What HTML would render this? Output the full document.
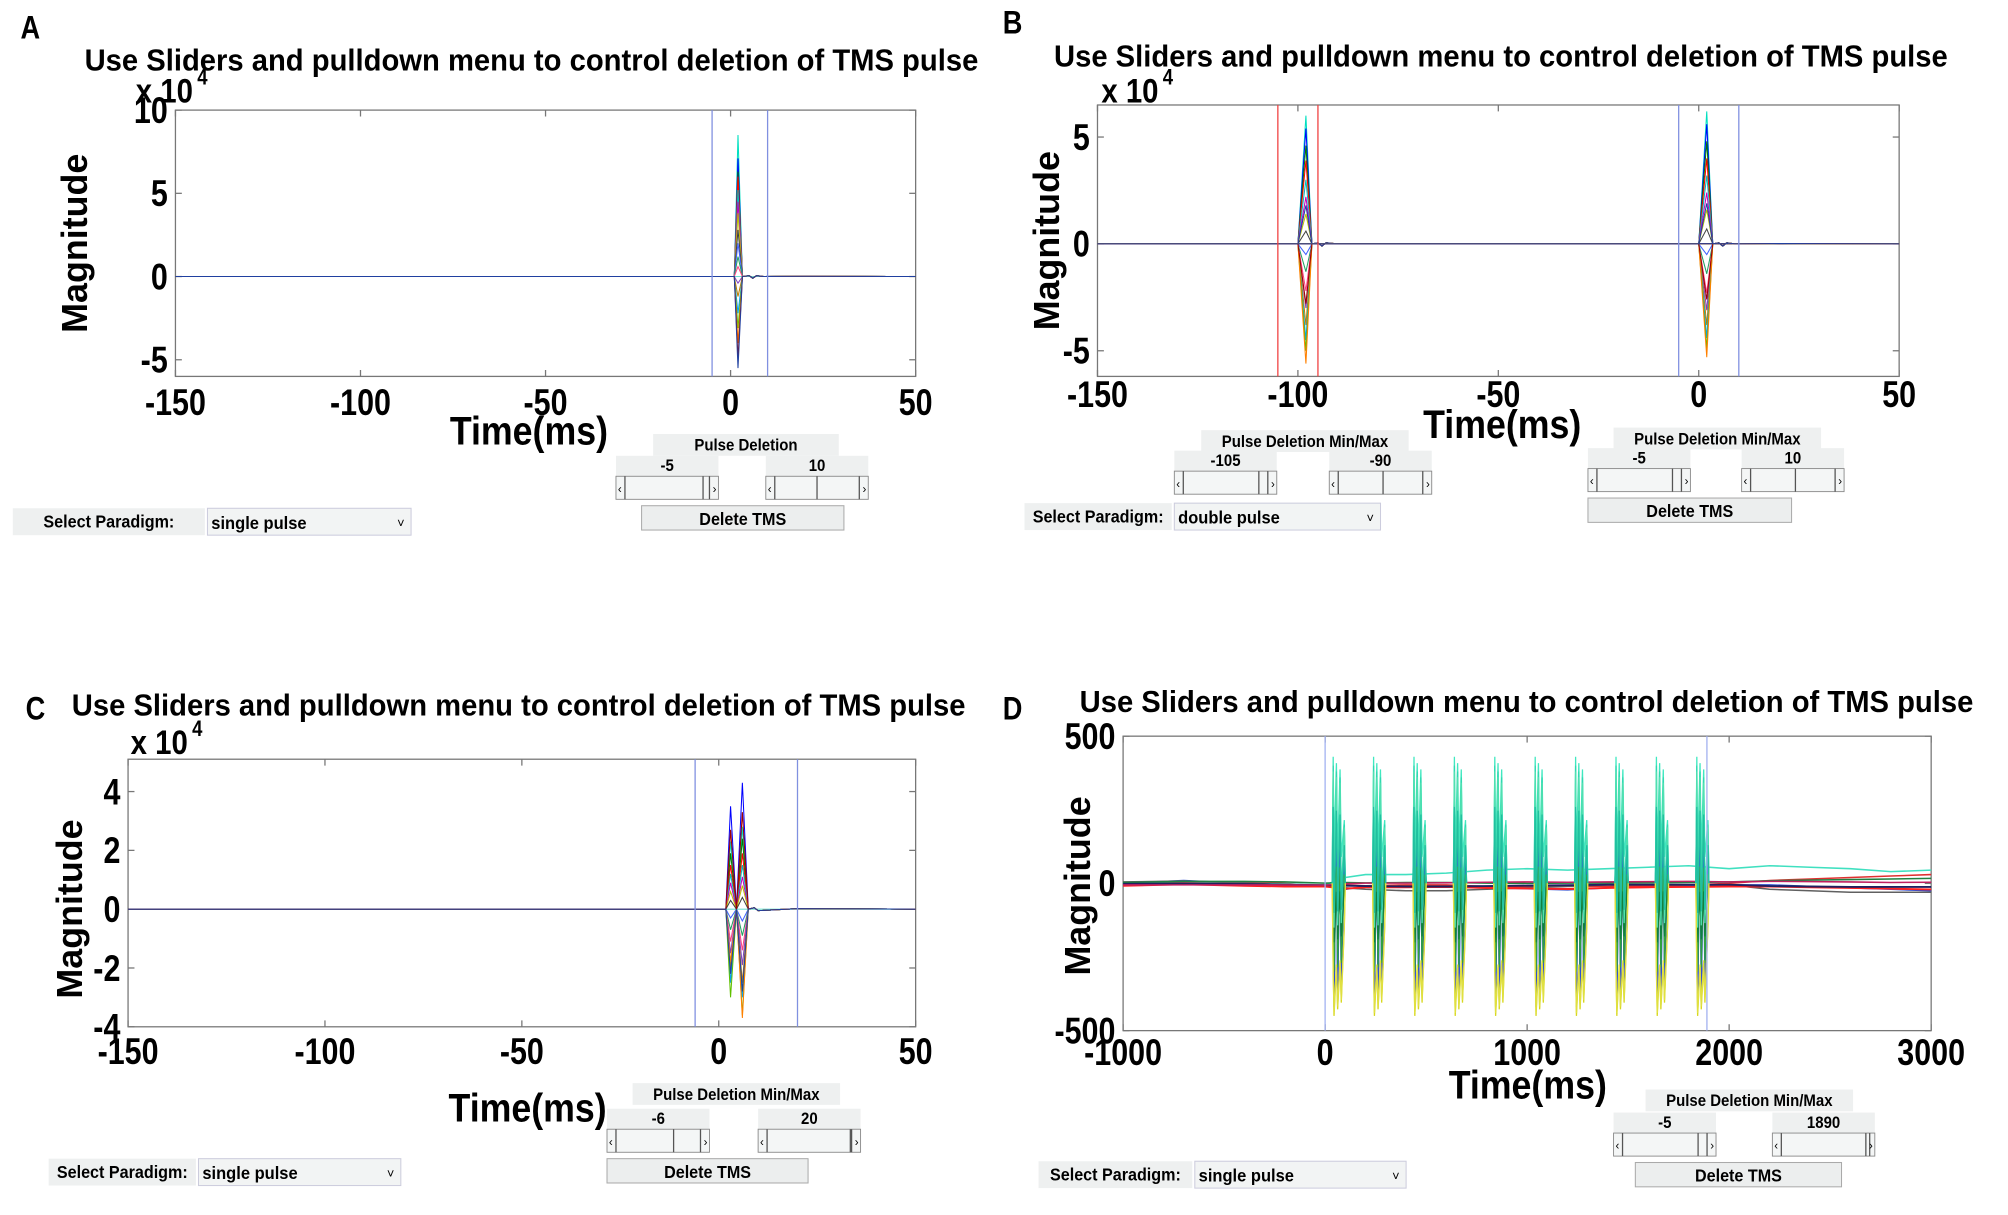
<!DOCTYPE html>
<html><head><meta charset="utf-8"><style>
html,body{margin:0;padding:0;background:#fff;}
svg{display:block;font-family:"Liberation Sans",sans-serif;}
</style></head><body>
<svg id="fig" width="2008" height="1215" viewBox="0 0 1568 949" preserveAspectRatio="none" xmlns="http://www.w3.org/2000/svg"></svg>
<script>
// ---------- data ----------
const colors = ["#00e0c0","#0000ff","#008000","#ff0000","#00bfbf","#bf00bf","#bfbf00","#404040","#4060ff","#20a060","#ff4080","#8040c0","#c08000","#00a0ff","#60c000","#ff8000","#a00000","#2040a0"];
// Panel A: amplitude (x1e4) at t=2 ms for each channel
const aPeak = [8.5,7.1,6.3,6.0,5.2,4.5,3.8,2.8,2.0,1.2,0.6,-0.4,-1.2,-2.2,-3.1,-4.0,-4.9,-5.5];
// Panel B: amplitudes at first (-98 ms) and second (2 ms) pulse
const bPeak1 = [6.0,5.4,4.6,3.9,3.0,2.2,1.4,0.6,-0.5,-1.3,-2.2,-3.0,-3.8,-4.5,-5.0,-5.6,-2.8,1.8];
const bPeak2 = [6.2,5.6,4.8,4.0,3.2,2.4,1.6,0.7,-0.5,-1.4,-2.3,-3.1,-3.8,-4.4,-4.9,-5.3,-2.6,1.9];
// Panel C: amplitudes at t=3 ms and t=6 ms
const cPeak1 = [2.3,3.5,1.9,1.5,1.2,0.9,0.6,0.3,-0.3,-0.7,-1.1,-1.5,-2.0,-2.5,-3.0,-1.8,2.7,-2.2];
const cPeak2 = [2.8,4.3,2.4,1.9,1.5,1.1,0.8,0.4,-0.4,-0.9,-1.4,-1.9,-2.5,-3.0,-3.6,-3.7,3.3,-2.8];
// Panel D: burst onsets (ms), channel high/low amplitudes (uV)
const dBursts = [50,250,450,650,850,1050,1250,1450,1650,1850];
const dHi = [200,180,60,-30,430,400,380,260,-300,-290];
const dLo = [-420,-400,-300,-200,100,-50,-150,-100,-450,-440];
const dCol = ["#2040e0","#3050d0","#30a040","#108040","#40e8c0","#30d8b0","#50e0b0","#20c0a0","#d8d820","#e0e040"];
const dBaseT = [-1000,-700,-400,-200,0,100,200,400,600,800,1000,1200,1400,1600,1800,2000,2200,2400,2600,2800,3000];
const dBase1 = [0,10,0,-5,-5,-20,-10,-10,-8,-15,-18,-22,-15,-10,-8,-5,-5,-10,-15,-20,-25];
const dBase2 = [-5,5,5,0,-10,-5,-8,-5,-5,-10,-12,-10,-10,-8,-5,0,10,15,20,25,30];
const dBase3 = [0,0,0,-2,-5,20,30,30,35,45,50,45,50,55,60,50,60,55,50,40,45];
const dBase4 = [5,8,2,-5,-10,-15,-20,-25,-25,-20,-15,-10,-5,-5,-5,-5,-20,-25,-30,-30,-30];
const xTicksA = [-150,-100,-50,0,50];
const xTicksD = [-1000,0,1000,2000,3000];

const NS="http://www.w3.org/2000/svg";
const svg=document.getElementById('fig');
function mk(tag,attrs,parent){const e=document.createElementNS(NS,tag);for(const k in attrs)e.setAttribute(k,attrs[k]);(parent||svg).appendChild(e);return e;}
function txt(s,x,y,size,anchor,parent,extra){const t=mk('text',Object.assign({x:x,y:y,'font-size':size,'font-weight':'bold','text-anchor':anchor||'middle',fill:'#000'},extra||{}),parent);t.textContent=s;return t;}
function txtS(s,x,y,size,anchor,parent,k){return txt(s,0,0,size,anchor,parent,{transform:'translate('+x+','+y+') scale('+k+',1)'});}

function panel(p){
  const g=mk('g',{});
  
  
  const sx=v=>p.x0+(v-p.xmin)/(p.xmax-p.xmin)*(p.x1-p.x0);
  const sy=v=>p.y1-(v-p.ymin)/(p.ymax-p.ymin)*(p.y1-p.y0);
  const lab=txtS(p.id,p.lx,p.ly,25,'start',g,0.85);
  
  
  const ti=txtS('Use Sliders and pulldown menu to control deletion of TMS pulse',p.tx,p.ty,24,'middle',g,0.95);
  
  
  const box=mk('rect',{x:p.x0,y:p.y0,width:p.x1-p.x0,height:p.y1-p.y0,fill:'#fff',stroke:'#777','stroke-width':1},g);
  
  
  p.xticks.forEach(v=>{
    const X=sx(v);
    mk('line',{x1:X,x2:X,y1:p.y1,y2:p.y1-5,stroke:'#777'},g);
    mk('line',{x1:X,x2:X,y1:p.y0,y2:p.y0+5,stroke:'#777'},g);
    const t=txtS(String(v),X,p.xty,29,'middle',g,0.82);
    
    
  });
  p.yticks.forEach(v=>{
    const Y=sy(v);
    mk('line',{x1:p.x0,x2:p.x0+5,y1:Y,y2:Y,stroke:'#777'},g);
    mk('line',{x1:p.x1,x2:p.x1-5,y1:Y,y2:Y,stroke:'#777'},g);
    const t=txtS(String(v),p.x0-6,Y+10,29,'end',g,0.82);
    
    
  });
  const xt=txtS('Time(ms)',p.xlx,p.xly,31,'middle',g,0.9);
  
  
  const yt=txt('Magnitude',0,0,28,'middle',g,{transform:'translate('+p.ylx+','+p.yly+') rotate(-90)'});
  
  
  if(p.exp){
    const e=txtS('x 10',p.exp[0],p.exp[1],27,'start',g,0.85);
    
    
    txtS('4',p.exp[0]+48,p.exp[1]-14,17,'start',g,0.85);
  }
  return {g,sx,sy};
}
function vline(P,p,v,col,name){
  const l=mk('line',{x1:P.sx(v),x2:P.sx(v),y1:p.y0,y2:p.y1,stroke:col,'stroke-width':1},P.g);
  
  
}
function poly(P,ts,vs,col,name,w){
  const pts=ts.map((t,i)=>P.sx(t).toFixed(2)+','+P.sy(vs[i]).toFixed(2)).join(' ');
  const l=mk('polyline',{points:pts,fill:'none',stroke:col,'stroke-width':w||0.8},P.g);
  
  
}
function ctl(x,y,w,h,label,parent){
  const r=mk('rect',{x:x,y:y,width:w,height:h,fill:'#eef0f0'},parent);
  if(label!==null){txtS(label,x+w/2,y+h-4,13,'middle',parent,0.9);}
  return r;
}
function slider(x,y,val,thumb){
  const g=mk('g',{});
  
  
  ctl(x,y,80,16,val,g);
  mk('rect',{x:x,y:y+16,width:80,height:18,fill:'#f4f6f6',stroke:'#888','stroke-width':0.7},g);
  mk('line',{x1:x+thumb,x2:x+thumb,y1:y+16,y2:y+34,stroke:'#555','stroke-width':1},g);
  mk('line',{x1:x+7,x2:x+7,y1:y+16,y2:y+34,stroke:'#555','stroke-width':1},g);
  mk('line',{x1:x+73,x2:x+73,y1:y+16,y2:y+34,stroke:'#555','stroke-width':1},g);
  txt('‹',x+3,y+29,9,'middle',g,{'font-weight':'normal'});
  txt('›',x+77,y+29,9,'middle',g,{'font-weight':'normal'});
}
function button(x,y,w,label){
  const g=mk('g',{});
  
  
  mk('rect',{x:x,y:y,width:w,height:19,fill:'#eceeee',stroke:'#aaa','stroke-width':0.8},g);
  txtS(label,x+w/2,y+15,14,'middle',g,0.9);
}
function titleBox(x,y,w,label){
  const g=mk('g',{});
  
  
  ctl(x,y,w,17,label,g);
}
function paradigm(x,y,lw,dw,val){
  const g=mk('g',{});
  
  
  ctl(x,y,lw,21,null,g);
  txtS('Select Paradigm:',x+lw/2,y+15,14,'middle',g,0.9);
  const d=mk('g',{});
  
  
  mk('rect',{x:x+lw+2,y:y,width:dw,height:21,fill:'#f2f4f4',stroke:'#ccd','stroke-width':0.8},d);
  txtS(val,x+lw+5,y+16,14,'start',d,0.92);
  txt('˅',x+lw+dw-6,y+15,10,'middle',d,{'font-weight':'normal'});
}

// ---------- Panel A ----------
const pA={id:'A',lx:16,ly:30,tx:415,ty:55,x0:137,x1:715,y0:86,y1:294,xmin:-150,xmax:50,ymin:-6,ymax:10,
  xticks:xTicksA,yticks:[-5,0,5,10],xty:324,xlx:413,xly:347,ylx:68,yly:190,exp:[106,80]};
const A=panel(pA);
poly(A,[-150,50],[0,0],'#70e0d0','baseline-trace');
aPeak.forEach((v,i)=>poly(A,[-150,1,2,3.2,5,6,7,9,20,50],[0,0,v,0,0.05,-0.1,0.05,0,0.02,0],colors[i%colors.length],'trace-a'));
vline(A,pA,-5,'#8090e0','deletion-min-line');
vline(A,pA,10,'#8090e0','deletion-max-line');
titleBox(510,339,145,'Pulse Deletion');
slider(481,356,'-5',68);
slider(598,356,'10',40);
button(501,395,158,'Delete TMS');
paradigm(10,397,150,159,'single pulse');

// ---------- Panel B ----------
const pB={id:'B',lx:783,ly:26,tx:1172,ty:52,x0:857,x1:1483,y0:82,y1:294,xmin:-150,xmax:50,ymin:-6.2,ymax:6.5,
  xticks:xTicksA,yticks:[-5,0,5],xty:318,xlx:1173,xly:342,ylx:827,yly:188,exp:[860,80]};
const B=panel(pB);
poly(B,[-150,50],[0,0],'#70e0d0','baseline-trace');
bPeak1.forEach((v,i)=>poly(B,[-150,-100,-98,-96.5,-95,-94,-93,-90,-80,50],[0,0,v,0,0.05,-0.1,0.05,0,0.02,0],colors[i%colors.length],'trace-b-first'));
bPeak2.forEach((v,i)=>poly(B,[-150,0,2,3.5,5,6,7,9,20,50],[0,0,v,0,0.05,-0.1,0.05,0,0.02,0],colors[i%colors.length],'trace-b-second'));
vline(B,pB,-105,'#f04040','first-deletion-min-line');
vline(B,pB,-95,'#f04040','first-deletion-max-line');
vline(B,pB,-5,'#8090e0','second-deletion-min-line');
vline(B,pB,10,'#8090e0','second-deletion-max-line');
titleBox(938,336,162,'Pulse Deletion Min/Max');
slider(917,352,'-105',66);
slider(1038,352,'-90',42);
paradigm(800,393,115,161,'double pulse');
titleBox(1260,334,162,'Pulse Deletion Min/Max');
slider(1240,350,'-5',66);
slider(1360,350,'10',42);
button(1240,389,159,'Delete TMS');

// ---------- Panel C ----------
const pC={id:'C',lx:20,ly:562,tx:405,ty:559,x0:100,x1:715,y0:593,y1:802,xmin:-150,xmax:50,ymin:-4,ymax:5.1,
  xticks:xTicksA,yticks:[-4,-2,0,2,4],xty:831,xlx:412,xly:876,ylx:64,yly:710,exp:[102,589]};
const C=panel(pC);
poly(C,[-150,50],[0,0],'#70e0d0','baseline-trace');
cPeak1.forEach((v,i)=>poly(C,[-150,1.8,3,4.5,6,7.5,9,10,20,50],[0,0,v,0,cPeak2[i],0,0.05,-0.05,0.02,0],colors[i%colors.length],'trace-c'));
vline(C,pC,-6,'#8090e0','deletion-min-line');
vline(C,pC,20,'#8090e0','deletion-max-line');
titleBox(494,846,162,'Pulse Deletion Min/Max');
slider(474,866,'-6',52);
slider(592,866,'20',72);
button(474,905,157,'Delete TMS');
paradigm(38,905,115,158,'single pulse');

// ---------- Panel D ----------
const pD={id:'D',lx:783,ly:562,tx:1192,ty:556,x0:877,x1:1508,y0:575,y1:805,xmin:-1000,xmax:3000,ymin:-500,ymax:500,
  xticks:xTicksD,yticks:[-500,0,500],xty:832,xlx:1193,xly:858,ylx:851,yly:692,exp:null};
const D=panel(pD);
[dBase1,dBase2,dBase3,dBase4].forEach((b,k)=>poly(D,dBaseT,b,['#3050d0','#e03030','#40e0c0','#606060'][k],'baseline-trace',1.2));
poly(D,dBaseT,dBase1.map(v=>v*0.5-8),'#ff2020','baseline-trace',1.5);
poly(D,dBaseT,dBase2.map(v=>v*0.4+5),'#208040','baseline-trace',1.2);
poly(D,dBaseT,dBase4.map(v=>v*0.3-3),'#202060','baseline-trace',1.5);
poly(D,dBaseT,dBase3.map(v=>v*0.2-5),'#c02060','baseline-trace',1.2);
dBursts.forEach(t0=>{
  dHi.forEach((hi,i)=>{
    const lo=dLo[i];
    poly(D,[t0-15,t0-10,t0-6,t0+6,t0+12,t0+24,t0+30,t0+45,t0+50],[0,hi,lo,hi*0.95,lo*0.95,hi*0.9,lo*0.9,hi*0.5,0],dCol[i],'burst-trace',1);
  });
});
vline(D,pD,0,'#a0b0f0','deletion-min-line');
vline(D,pD,1890,'#a0b0f0','deletion-max-line');
titleBox(1285,851,162,'Pulse Deletion Min/Max');
slider(1260,869,'-5',66);
slider(1384,869,'1890',76);
button(1277,908,161,'Delete TMS');
paradigm(811,907,120,165,'single pulse');
</script>
</body></html>
